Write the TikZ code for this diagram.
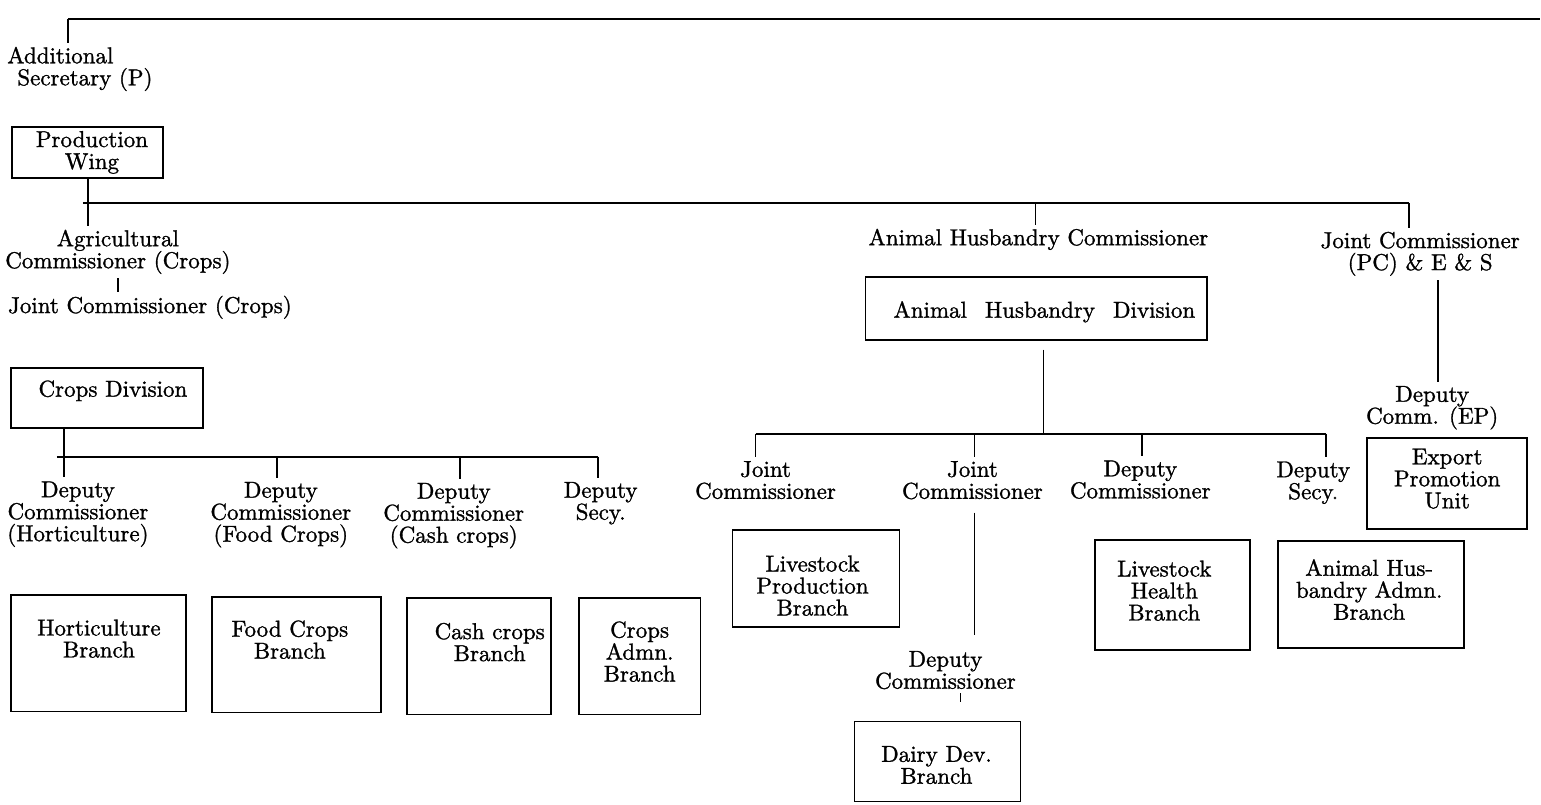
\documentclass[tikz,border=0pt]{standalone}
\usepackage{fontspec}
\setmainfont{lmroman10-regular}[Extension=.otf, FakeBold=1.2]
\begin{document}
\begin{tikzpicture}[x=1pt,y=-1pt,
  txt/.style={font=\fontsize{23}{22}\selectfont, align=center, inner sep=4pt},
  bx/.style 2 args={draw, line width=1.8pt, minimum width=#1, minimum height=#2, inner sep=0pt},
  conn/.style={line width=1.8pt}]
\path[fill=white] (0,0) rectangle (1541,805);

% ---------- top ----------
\node[txt, align=left] (addsec) at (80,69) {Additional\\\hspace*{10pt}Secretary (P)};
\node[bx={151pt}{51pt}] (prodbox) at (87.5,152.5) {};
\node[txt] (prod) at (92,152.5) {Production\\Wing};

% ---------- crops side ----------
\node[txt] (agri) at (118,252) {Agricultural\\Commissioner (Crops)};
\node[txt] (jcc) at (150,307.5) {Joint Commissioner (Crops)};
\node[bx={192pt}{60pt}] (cdbox) at (107,398) {};
\node[txt] (cd) at (113,391) {Crops Division};

\node[txt] (dch) at (78,514.5) {Deputy\\Commissioner\\(Horticulture)};
\node[txt] (dcf) at (281,515) {Deputy\\Commissioner\\(Food Crops)};
\node[txt] (dcc) at (454,516) {Deputy\\Commissioner\\(Cash crops)};
\node[txt] (dsl) at (601,503.5) {Deputy\\Secy.};

\node[bx={175pt}{117pt}] (hortbox) at (98.5,653.5) {};
\node[txt] (hort) at (99,639) {Horticulture\\Branch};
\node[bx={169pt}{116pt}] (foodbox) at (296.5,655) {};
\node[txt] (food) at (290,640) {Food Crops\\Branch};
\node[bx={144pt}{117pt}] (cashbox) at (479,656.5) {};
\node[txt] (cash) at (490,642.5) {Cash crops\\Branch};
\node[bx={122pt}{117pt}] (admnbox) at (640,656.5) {};
\node[txt] (admn) at (640,652) {Crops\\Admn.\\Branch};

% ---------- animal husbandry side ----------
\node[txt] (ahc) at (1039,239.5) {Animal Husbandry Commissioner};
\node[bx={342pt}{63pt}] (ahdbox) at (1037,308.5) {};
\node[txt] (ahd) at (1045,312) {Animal\hspace{18pt}Husbandry\hspace{18pt}Division};

\node[txt] (jc1) at (766,480.5) {Joint\\Commissioner};
\node[txt] (jc2) at (973,480.5) {Joint\\Commissioner};
\node[txt] (dc3) at (1141,480) {Deputy\\Commissioner};
\node[txt] (ds4) at (1314,483) {Deputy\\Secy.};

\node[bx={167pt}{97pt}] (lpbbox) at (816.5,578.5) {};
\node[txt] (lpb) at (813,586) {Livestock\\Production\\Branch};
\node[txt] (dc5) at (946,670.5) {Deputy\\Commissioner};
\node[bx={166pt}{80pt}] (ddbbox) at (938,762) {};
\node[txt] (ddb) at (937,765.5) {Dairy Dev.\\Branch};
\node[bx={155pt}{110pt}] (lhbbox) at (1173.5,595) {};
\node[txt] (lhb) at (1165,591) {Livestock\\Health\\Branch};
\node[bx={186pt}{107pt}] (ahabbox) at (1372,594.5) {};
\node[txt] (ahab) at (1370,590) {Animal Hus-\\bandry Admn.\\Branch};

% ---------- export promotion ----------
\node[txt] (jcpc) at (1421,254) {Joint Commissioner\\(PC) \& E \& S};
\node[txt] (dcep) at (1433,408) {Deputy\\Comm. (EP)};
\node[bx={160pt}{91pt}] (epubox) at (1448,483.5) {};
\node[txt] (epu) at (1448,479) {Export\\Promotion\\Unit};

% ---------- connectors ----------
\coordinate (t0) at (68,19);
\coordinate (t1) at (1541,19);
\draw[conn] (t0) -- (t1);
\draw[conn] (t0) -- (t0 |- addsec.north);

\coordinate (h1L) at (83,203);
\coordinate (p1) at (88,203);
\coordinate (p2) at (1036,203);
\coordinate (h1R) at (1410,203);
\draw[conn] (prodbox.south -| p1) -- (p1);
\draw[conn] (h1L) -- (h1R);
\draw[conn] (p1) -- (p1 |- agri.north);
\draw[conn] (p2) -- (p2 |- ahc.north);
\draw[conn] (h1R) -- (h1R |- jcpc.north);

\draw[conn] (agri.south) -- (agri.south |- jcc.north);

\coordinate (hL2) at (57,457);
\coordinate (k1) at (64,457);
\coordinate (k2) at (277,457);
\coordinate (k3) at (460,457);
\coordinate (k4) at (598,457);
\draw[conn] (cdbox.south -| k1) -- (k1);
\draw[conn] (hL2) -- (k4);
\draw[conn] (k1) -- (k1 |- dch.north);
\draw[conn] (k2) -- (k2 |- dcf.north);
\draw[conn] (k3) -- (k3 |- dcc.north);
\draw[conn] (k4) -- (k4 |- dsl.north);

\coordinate (a0) at (1044,434);
\coordinate (m1) at (756,434);
\coordinate (m2) at (975,434);
\coordinate (m3) at (1143,434);
\coordinate (m4) at (1327,434);
\draw[conn, shorten <=9pt] (ahdbox.south -| a0) -- (a0);
\draw[conn] (m1) -- (m4);
\draw[conn] (m1) -- (m1 |- jc1.north);
\draw[conn] (m2) -- (m2 |- jc2.north);
\draw[conn] (m3) -- (m3 |- dc3.north);
\draw[conn] (m4) -- (m4 |- ds4.north);

\draw[conn, shorten <=9pt, shorten >=12pt] (jc2.south -| m2) -- (dc5.north -| m2);
\draw[line width=1pt, shorten >=19pt] ([xshift=15pt]dc5.south) -- ([xshift=15pt]dc5.south |- ddbbox.north);
\draw[conn] ([xshift=18pt]jcpc.south) -- ([xshift=18pt]jcpc.south |- dcep.north);
\end{tikzpicture}
\end{document}
